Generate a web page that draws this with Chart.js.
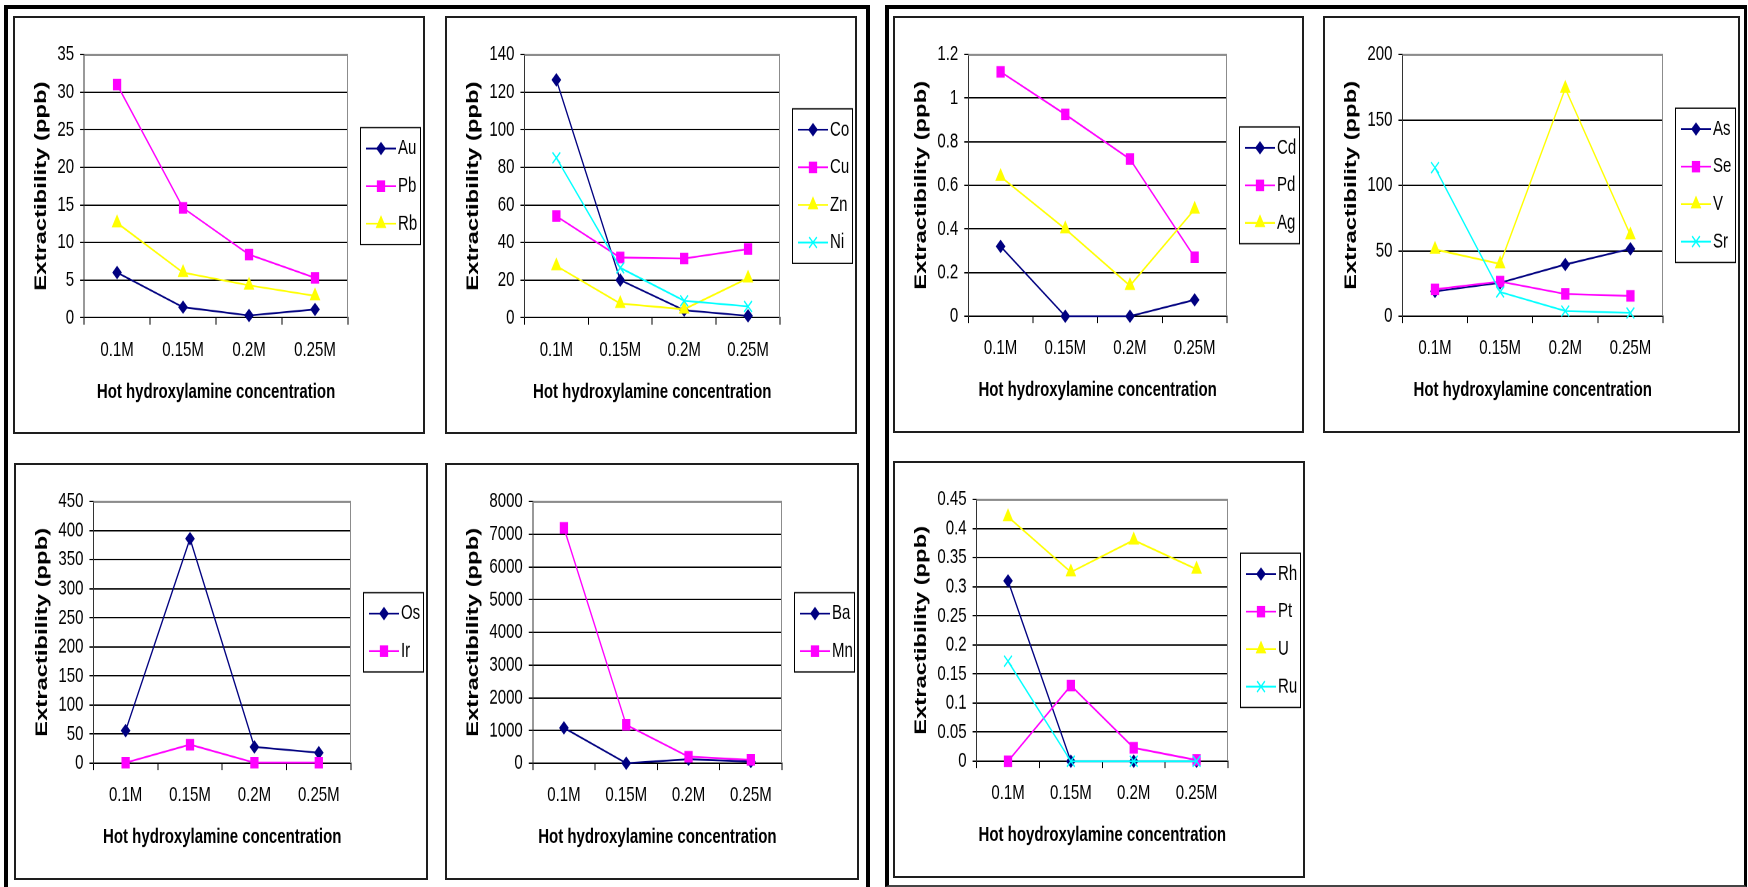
<!DOCTYPE html>
<html lang="en">
<head>
<meta charset="UTF-8" />
<title>Hot hydroxylamine extractibility</title>
<script src="https://cdn.jsdelivr.net/npm/chart.js"></script>
<style>
  body { margin: 0; width: 1748px; height: 887px; overflow: hidden; position: relative; background: #fff; }
  .frame { position: absolute; box-sizing: border-box; }
  .panel { position: absolute; box-sizing: border-box; border: 2px solid #1e1e1e; background: #fff; overflow: hidden; }
  .panel .stretch { position: absolute; left: 0; top: 0; transform-origin: 0 0; }
</style>
</head>
<body>
<div class="frame" style="left:4px; top:5px; width:866px; height:900px; border:4px solid #000;"></div>
<div class="frame" style="left:885px; top:5px; width:862px; height:882px; border-left:4px solid #000; border-top:4px solid #000; border-right:3px solid #000; border-bottom:2px solid #444;"></div>
<div id="charts"></div>

<script>
  const concentrations = ['0.1M', '0.15M', '0.2M', '0.25M'];

  // extractibility in ppb at each concentration
  const Au = [6.0, 1.4, 0.3, 1.1];
  const Pb = [31.0, 14.6, 8.4, 5.3];
  const Rb = [12.6, 6.0, 4.3, 2.9];

  const Co = [126.5, 20, 4, 1];
  const Cu = [54, 32, 31.5, 36.5];
  const Zn = [27.5, 7.5, 4.5, 21];
  const Ni = [85, 26.5, 9, 6];

  const Cd = [0.32, 0, 0, 0.075];
  const Pd = [1.12, 0.925, 0.72, 0.27];
  const Ag = [0.64, 0.40, 0.14, 0.49];

  const As = [19, 25.5, 39.5, 51.5];
  const Se = [20.5, 26.5, 17, 15.5];
  const V = [51, 40, 174, 62];
  const Sr = [113.5, 18.5, 4, 2.5];

  const Os = [56, 386, 28, 18];
  const Ir = [1, 32, 1, 1];

  const Ba = [1080, 0, 120, 50];
  const Mn = [7190, 1170, 200, 100];

  const Rh = [0.31, 0, 0, 0];
  const Pt = [0, 0.13, 0.023, 0.002];
  const U = [0.42, 0.325, 0.38, 0.33];
  const Ru = [0.172, 0, 0, 0];

  // y axis range and step for each chart
  const yMax = [35, 140, 1.2, 200, 450, 8000, 0.45];
  const yStep = [5, 20, 0.2, 50, 50, 1000, 0.05];

  const yTitle = 'Extractibility (ppb)';
  const xTitle = 'Hot hydroxylamine concentration';
  const xTitleLast = 'Hot hoydroxylamine concentration';

  const panels = [
    { box: [13, 16, 412, 418], names: ['Au', 'Pb', 'Rb'], series: [Au, Pb, Rb], x: xTitle },
    { box: [445, 16, 412, 418], names: ['Co', 'Cu', 'Zn', 'Ni'], series: [Co, Cu, Zn, Ni], x: xTitle },
    { box: [893, 16, 411, 417], names: ['Cd', 'Pd', 'Ag'], series: [Cd, Pd, Ag], x: xTitle },
    { box: [1323, 16, 417, 417], names: ['As', 'Se', 'V', 'Sr'], series: [As, Se, V, Sr], x: xTitle },
    { box: [14, 463, 414, 417], names: ['Os', 'Ir'], series: [Os, Ir], x: xTitle },
    { box: [445, 463, 414, 417], names: ['Ba', 'Mn'], series: [Ba, Mn], x: xTitle },
    { box: [893, 461, 412, 417], names: ['Rh', 'Pt', 'U', 'Ru'], series: [Rh, Pt, U, Ru], x: xTitleLast },
  ];

  // Excel-like series looks: navy diamond, magenta square, yellow triangle, cyan cross
  const looks = [
    { color: '#000080', pointStyle: 'rectRot', radius: 4 },
    { color: '#ff00ff', pointStyle: 'rect', radius: 5 },
    { color: '#ffff00', pointStyle: 'triangle', radius: 5 },
    { color: '#00ffff', pointStyle: 'crossRot', radius: 5.5 },
  ];

  // the charts were pasted taller than drawn, so each canvas gets stretched
  const STRETCH = 1.4;
  const FONT = '"Liberation Sans", Arial, sans-serif';
  Chart.defaults.font.family = FONT;
  Chart.defaults.color = '#000';

  // gray plot-area border on top and right
  const plotFrame = {
    id: 'plotFrame',
    beforeDatasetsDraw(chart) {
      const { ctx, chartArea: a } = chart;
      ctx.save();
      ctx.strokeStyle = '#8c8c8c';
      ctx.lineWidth = 1;
      ctx.beginPath();
      ctx.moveTo(a.left, a.top + 0.5);
      ctx.lineTo(a.right - 0.5, a.top + 0.5);
      ctx.lineTo(a.right - 0.5, a.bottom);
      ctx.stroke();
      ctx.restore();
    }
  };

  // boxed legend to the right of the plot, line with marker per series
  const boxLegend = {
    id: 'boxLegend',
    afterDraw(chart) {
      const { ctx, chartArea: a } = chart;
      const sets = chart.data.datasets;
      const rowH = 26.8;
      const left = a.right + 12;
      const right = chart.width - 3;
      const h = sets.length * rowH + 3;
      const top = (a.top + a.bottom) / 2 - h / 2;
      ctx.save();
      ctx.strokeStyle = '#000';
      ctx.lineWidth = 1;
      ctx.strokeRect(left + 0.5, top, right - left, h);
      sets.forEach((ds, i) => {
        const y = top + 1.5 + rowH * (i + 0.5);
        ctx.strokeStyle = ds.borderColor;
        ctx.lineWidth = ds.borderWidth;
        ctx.beginPath();
        ctx.moveTo(left + 6, y);
        ctx.lineTo(left + 36, y);
        ctx.stroke();
        ctx.fillStyle = ds.pointBackgroundColor;
        ctx.strokeStyle = ds.pointBorderColor;
        ctx.lineWidth = ds.pointBorderWidth;
        Chart.helpers.drawPoint(ctx, {
          pointStyle: ds.pointStyle, radius: ds.pointRadius, rotation: 0, borderWidth: ds.pointBorderWidth
        }, left + 21, y);
        ctx.fillStyle = '#000';
        ctx.font = '15px ' + FONT;
        ctx.textBaseline = 'middle';
        ctx.textAlign = 'left';
        ctx.fillText(ds.label, left + 38, y);
      });
      ctx.restore();
    }
  };

  const tickText = v => String(Number(v.toFixed(3)));

  panels.forEach((p, k) => {
    const [left, top, w, h] = p.box;
    const panel = document.createElement('div');
    panel.className = 'panel';
    panel.style.cssText = `left:${left}px; top:${top}px; width:${w}px; height:${h}px;`;
    const innerW = w - 4, innerH = h - 4;
    const wrap = document.createElement('div');
    wrap.className = 'stretch';
    wrap.style.width = innerW + 'px';
    wrap.style.height = (innerH / STRETCH) + 'px';
    wrap.style.transform = `scaleY(${STRETCH})`;
    const canvas = document.createElement('canvas');
    wrap.appendChild(canvas);
    panel.appendChild(wrap);
    document.getElementById('charts').appendChild(panel);

    const max = yMax[k];
    const n = p.series.length;

    new Chart(canvas, {
      type: 'line',
      data: {
        labels: concentrations,
        datasets: p.series.map((values, i) => ({
          label: p.names[i],
          data: values,
          borderColor: looks[i].color,
          backgroundColor: looks[i].color,
          pointBackgroundColor: looks[i].color,
          pointBorderColor: looks[i].color,
          pointStyle: looks[i].pointStyle,
          pointRadius: looks[i].radius,
          pointHoverRadius: looks[i].radius,
          pointBorderWidth: 1.2,
          borderWidth: 1.3,
          tension: 0,
          clip: false,
          order: n - i
        }))
      },
      options: {
        responsive: true,
        maintainAspectRatio: false,
        animation: false,
        devicePixelRatio: 2,
        layout: { padding: { left: 5, right: 75, top: 26, bottom: 0 } },
        plugins: { legend: { display: false }, tooltip: { enabled: false } },
        scales: {
          x: {
            offset: true,
            grid: { offset: true, drawOnChartArea: false, tickLength: 5, color: '#000', lineWidth: 1 },
            border: { color: '#000', width: 1 },
            ticks: { color: '#000', font: { size: 15 }, padding: 9, maxRotation: 0, autoSkip: false },
            title: {
              display: true, text: p.x, color: '#000',
              font: { size: 15, weight: 'bold' }, padding: { top: 0, bottom: 20 }
            },
            afterFit: s => { s.height = 82; }
          },
          y: {
            min: 0,
            max: max,
            ticks: {
              stepSize: yStep[k], color: '#000', font: { size: 15 }, padding: 6,
              autoSkip: false, callback: tickText
            },
            grid: {
              color: c => (c.tick && c.tick.value === max ? '#8c8c8c' : '#000'),
              tickColor: '#000', tickLength: 4, lineWidth: 1
            },
            border: { color: '#333', width: 1 },
            title: {
              display: true, text: yTitle, color: '#000',
              font: { size: 17, weight: 'bold' }, padding: { top: 11, bottom: 0 }
            }
          }
        }
      },
      plugins: [plotFrame, boxLegend]
    });
  });
</script>
</body>
</html>
